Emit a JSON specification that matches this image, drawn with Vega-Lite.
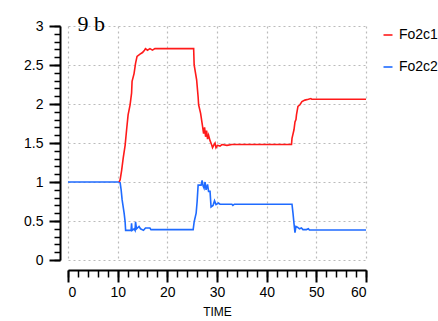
{
  "$schema": "https://vega.github.io/schema/vega-lite/v6.json",
  "width": 298,
  "height": 234,
  "autosize": {"type": "none"},
  "padding": {"left": 68, "top": 26, "right": 72, "bottom": 61},
  "background": "white",
  "title": {"text": "9 b", "anchor": "start", "dx": 54, "offset": -17, "font": "Liberation Serif", "fontSize": 22, "fontWeight": "normal", "color": "black"},
  "config": {
    "view": {"stroke": null},
    "font": "Liberation Sans"
  },
  "datasets": {
    "d": [
      {"t": 0, "v": 1.0, "s": "Fo2c2"},
      {"t": 10.3, "v": 1.0, "s": "Fo2c2"},
      {"t": 10.5, "v": 0.99, "s": "Fo2c2"},
      {"t": 10.7, "v": 0.9, "s": "Fo2c2"},
      {"t": 10.9, "v": 0.77, "s": "Fo2c2"},
      {"t": 11.3, "v": 0.6, "s": "Fo2c2"},
      {"t": 11.5, "v": 0.49, "s": "Fo2c2"},
      {"t": 11.6, "v": 0.38, "s": "Fo2c2"},
      {"t": 12.7, "v": 0.38, "s": "Fo2c2"},
      {"t": 12.8, "v": 0.47, "s": "Fo2c2"},
      {"t": 12.9, "v": 0.38, "s": "Fo2c2"},
      {"t": 13.3, "v": 0.4, "s": "Fo2c2"},
      {"t": 13.5, "v": 0.38, "s": "Fo2c2"},
      {"t": 13.6, "v": 0.49, "s": "Fo2c2"},
      {"t": 13.8, "v": 0.4, "s": "Fo2c2"},
      {"t": 14.3, "v": 0.43, "s": "Fo2c2"},
      {"t": 14.6, "v": 0.4, "s": "Fo2c2"},
      {"t": 15.2, "v": 0.38, "s": "Fo2c2"},
      {"t": 15.6, "v": 0.41, "s": "Fo2c2"},
      {"t": 16.5, "v": 0.41, "s": "Fo2c2"},
      {"t": 16.7, "v": 0.39, "s": "Fo2c2"},
      {"t": 25.2, "v": 0.39, "s": "Fo2c2"},
      {"t": 25.4, "v": 0.49, "s": "Fo2c2"},
      {"t": 25.8, "v": 0.6, "s": "Fo2c2"},
      {"t": 26.0, "v": 0.75, "s": "Fo2c2"},
      {"t": 26.2, "v": 0.96, "s": "Fo2c2"},
      {"t": 26.8, "v": 0.96, "s": "Fo2c2"},
      {"t": 27.0, "v": 1.02, "s": "Fo2c2"},
      {"t": 27.2, "v": 0.95, "s": "Fo2c2"},
      {"t": 27.4, "v": 0.92, "s": "Fo2c2"},
      {"t": 27.6, "v": 1.0, "s": "Fo2c2"},
      {"t": 27.8, "v": 0.9, "s": "Fo2c2"},
      {"t": 28.1, "v": 0.97, "s": "Fo2c2"},
      {"t": 28.3, "v": 0.88, "s": "Fo2c2"},
      {"t": 28.6, "v": 0.88, "s": "Fo2c2"},
      {"t": 28.8, "v": 0.68, "s": "Fo2c2"},
      {"t": 29.2, "v": 0.7, "s": "Fo2c2"},
      {"t": 29.5, "v": 0.76, "s": "Fo2c2"},
      {"t": 29.8, "v": 0.71, "s": "Fo2c2"},
      {"t": 30.3, "v": 0.73, "s": "Fo2c2"},
      {"t": 30.6, "v": 0.715, "s": "Fo2c2"},
      {"t": 33.0, "v": 0.715, "s": "Fo2c2"},
      {"t": 33.2, "v": 0.7, "s": "Fo2c2"},
      {"t": 33.5, "v": 0.715, "s": "Fo2c2"},
      {"t": 45.1, "v": 0.715, "s": "Fo2c2"},
      {"t": 45.3, "v": 0.6, "s": "Fo2c2"},
      {"t": 45.5, "v": 0.47, "s": "Fo2c2"},
      {"t": 45.7, "v": 0.35, "s": "Fo2c2"},
      {"t": 45.9, "v": 0.43, "s": "Fo2c2"},
      {"t": 46.2, "v": 0.42, "s": "Fo2c2"},
      {"t": 46.6, "v": 0.4, "s": "Fo2c2"},
      {"t": 47.0, "v": 0.41, "s": "Fo2c2"},
      {"t": 47.3, "v": 0.39, "s": "Fo2c2"},
      {"t": 48.0, "v": 0.39, "s": "Fo2c2"},
      {"t": 48.4, "v": 0.4, "s": "Fo2c2"},
      {"t": 48.6, "v": 0.385, "s": "Fo2c2"},
      {"t": 60, "v": 0.385, "s": "Fo2c2"},
      {"t": 10.3, "v": 1.0, "s": "Fo2c1"},
      {"t": 10.5, "v": 1.03, "s": "Fo2c1"},
      {"t": 10.8, "v": 1.15, "s": "Fo2c1"},
      {"t": 11.1, "v": 1.3, "s": "Fo2c1"},
      {"t": 11.5, "v": 1.47, "s": "Fo2c1"},
      {"t": 11.8, "v": 1.67, "s": "Fo2c1"},
      {"t": 12.1, "v": 1.86, "s": "Fo2c1"},
      {"t": 12.5, "v": 1.99, "s": "Fo2c1"},
      {"t": 12.8, "v": 2.14, "s": "Fo2c1"},
      {"t": 12.9, "v": 2.29, "s": "Fo2c1"},
      {"t": 13.3, "v": 2.39, "s": "Fo2c1"},
      {"t": 13.6, "v": 2.52, "s": "Fo2c1"},
      {"t": 13.9, "v": 2.61, "s": "Fo2c1"},
      {"t": 14.5, "v": 2.64, "s": "Fo2c1"},
      {"t": 15.0, "v": 2.66, "s": "Fo2c1"},
      {"t": 15.4, "v": 2.69, "s": "Fo2c1"},
      {"t": 15.6, "v": 2.71, "s": "Fo2c1"},
      {"t": 16.0, "v": 2.69, "s": "Fo2c1"},
      {"t": 16.5, "v": 2.71, "s": "Fo2c1"},
      {"t": 17.0, "v": 2.69, "s": "Fo2c1"},
      {"t": 17.5, "v": 2.71, "s": "Fo2c1"},
      {"t": 25.3, "v": 2.71, "s": "Fo2c1"},
      {"t": 25.4, "v": 2.5, "s": "Fo2c1"},
      {"t": 25.9, "v": 2.31, "s": "Fo2c1"},
      {"t": 26.2, "v": 2.09, "s": "Fo2c1"},
      {"t": 26.3, "v": 1.99, "s": "Fo2c1"},
      {"t": 26.7, "v": 1.88, "s": "Fo2c1"},
      {"t": 27.1, "v": 1.71, "s": "Fo2c1"},
      {"t": 27.3, "v": 1.62, "s": "Fo2c1"},
      {"t": 27.5, "v": 1.7, "s": "Fo2c1"},
      {"t": 27.7, "v": 1.58, "s": "Fo2c1"},
      {"t": 27.9, "v": 1.66, "s": "Fo2c1"},
      {"t": 28.1, "v": 1.55, "s": "Fo2c1"},
      {"t": 28.3, "v": 1.6, "s": "Fo2c1"},
      {"t": 28.6, "v": 1.53, "s": "Fo2c1"},
      {"t": 28.9, "v": 1.48, "s": "Fo2c1"},
      {"t": 29.1, "v": 1.44, "s": "Fo2c1"},
      {"t": 29.4, "v": 1.48, "s": "Fo2c1"},
      {"t": 29.6, "v": 1.5, "s": "Fo2c1"},
      {"t": 29.8, "v": 1.44, "s": "Fo2c1"},
      {"t": 30.1, "v": 1.47, "s": "Fo2c1"},
      {"t": 30.6, "v": 1.46, "s": "Fo2c1"},
      {"t": 31.0, "v": 1.48, "s": "Fo2c1"},
      {"t": 32.0, "v": 1.47, "s": "Fo2c1"},
      {"t": 33.0, "v": 1.48, "s": "Fo2c1"},
      {"t": 45.0, "v": 1.48, "s": "Fo2c1"},
      {"t": 45.1, "v": 1.56, "s": "Fo2c1"},
      {"t": 45.5, "v": 1.67, "s": "Fo2c1"},
      {"t": 45.7, "v": 1.77, "s": "Fo2c1"},
      {"t": 45.9, "v": 1.8, "s": "Fo2c1"},
      {"t": 46.0, "v": 1.86, "s": "Fo2c1"},
      {"t": 46.3, "v": 1.97, "s": "Fo2c1"},
      {"t": 46.7, "v": 1.99, "s": "Fo2c1"},
      {"t": 47.1, "v": 2.03, "s": "Fo2c1"},
      {"t": 47.7, "v": 2.05, "s": "Fo2c1"},
      {"t": 48.4, "v": 2.06, "s": "Fo2c1"},
      {"t": 48.9, "v": 2.07, "s": "Fo2c1"},
      {"t": 49.1, "v": 2.06, "s": "Fo2c1"},
      {"t": 60, "v": 2.06, "s": "Fo2c1"}
    ]
  },
  "data": {"name": "d"},
  "resolve": {"axis": {"x": "independent", "y": "independent"}},
  "layer": [
    {
      "mark": {"type": "line", "strokeOpacity": 0},
      "encoding": {
        "x": {"field": "t", "type": "quantitative", "scale": {"domain": [0, 60], "nice": false, "zero": false},
          "axis": {"orient": "bottom", "values": [0,2,4,6,8,10,12,14,16,18,20,22,24,26,28,30,32,34,36,38,40,42,44,46,48,50,52,54,56,58,60], "labels": false, "title": null, "grid": false, "domain": false, "offset": 10, "tickSize": 7, "tickColor": "black", "tickWidth": 1.5}},
        "y": {"field": "v", "type": "quantitative", "scale": {"domain": [0, 3], "nice": false, "zero": false},
          "axis": {"orient": "left", "values": [0,0.1,0.2,0.3,0.4,0.5,0.6,0.7,0.8,0.9,1,1.1,1.2,1.3,1.4,1.5,1.6,1.7,1.8,1.9,2,2.1,2.2,2.3,2.4,2.5,2.6,2.7,2.8,2.9,3], "labels": false, "title": null, "grid": false, "domain": false, "offset": 8, "tickSize": 6, "tickColor": "black", "tickWidth": 1.5}},
        "detail": {"field": "s"}
      }
    },
    {
      "mark": {"type": "line", "strokeWidth": 1.6, "interpolate": "linear"},
      "encoding": {
        "x": {"field": "t", "type": "quantitative",
          "axis": {"orient": "bottom", "values": [0,10,20,30,40,50,60], "title": "TIME", "titleFont": "Liberation Sans", "titleFontSize": 12, "titleFontWeight": "normal", "titleColor": "black", "titlePadding": 7,
            "labelFont": "Liberation Sans", "labelFontSize": 14, "labelColor": "black", "labelPadding": 3,
            "grid": true, "gridDash": [2, 3], "gridColor": "#bbbbbb", "gridWidth": 1.2,
            "domain": true, "domainColor": "black", "domainWidth": 2, "offset": 10, "tickSize": 12, "tickColor": "black", "tickWidth": 2}},
        "y": {"field": "v", "type": "quantitative",
          "axis": {"orient": "left", "values": [0,0.5,1,1.5,2,2.5,3], "labelExpr": "'' + datum.value", "title": null,
            "labelFont": "Liberation Sans", "labelFontSize": 14, "labelColor": "black", "labelPadding": 6,
            "grid": true, "gridDash": [2, 3], "gridColor": "#bbbbbb", "gridWidth": 1.2,
            "domain": true, "domainColor": "black", "domainWidth": 2, "offset": 8, "tickSize": 11, "tickColor": "black", "tickWidth": 2}},
        "color": {"field": "s", "type": "nominal",
          "scale": {"domain": ["Fo2c1", "Fo2c2"], "range": ["#ff1a1a", "#1f6bff"]},
          "legend": {"title": null, "orient": "none", "legendX": 313, "legendY": 2, "symbolType": "stroke", "symbolStrokeWidth": 1.6, "symbolSize": 81,
            "labelFont": "Liberation Sans", "labelFontSize": 14, "labelColor": "black", "rowPadding": 18, "labelOffset": 4, "padding": 0}}
      }
    }
  ]
}
